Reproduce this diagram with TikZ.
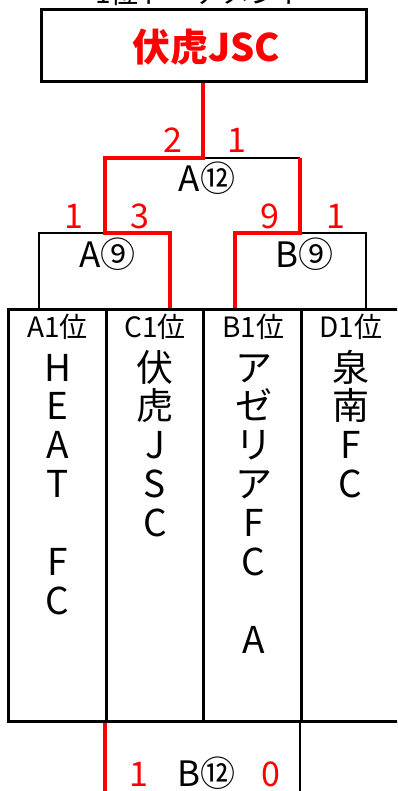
\documentclass[tikz,border=0pt]{standalone}
\usepackage{fontspec}
\setmainfont{Noto Sans CJK JP}
\begin{document}
\begin{tikzpicture}[x=1pt,y=-1pt,
  redline/.style={red,line width=4pt},
  thinline/.style={black,line width=1.5pt},
  frame/.style={draw=black,line width=3pt},
  cell/.style={frame,inner sep=0pt,minimum width=97.6pt,minimum height=411.5pt},
  score/.style={red,font=\fontsize{34}{34}\selectfont,anchor=base,inner sep=0pt},
  lbl/.style={font=\fontsize{35}{35}\selectfont,anchor=base,inner sep=0pt},
  hdr/.style={font=\fontsize{28}{28}\selectfont,anchor=base,inner sep=0pt},
  nm/.style={font=\fontsize{37}{37}\selectfont,anchor=base,inner sep=0pt}]
\useasboundingbox (0,0) rectangle (397,791);
\clip (0,0) rectangle (397,791);
\fill[white] (0,0) rectangle (397,791);

% title (cut off at the top, as in the reference)
\node[font=\fontsize{28}{28}\selectfont,anchor=base,inner sep=0pt] (title) at (201,4) {1位トーナメント};

% champion box
\node[frame,inner sep=0pt,minimum width=325pt,minimum height=72pt] (champ) at (204,45.5) {};
\node[red,font=\bfseries\fontsize{38}{38}\selectfont,anchor=base,inner sep=0pt] (champname) at (206,62) {伏虎JSC};

% table cells
\node[cell] (cA) at (57.4,515.25) {};
\node[cell] (cC) at (155.0,515.25) {};
\node[cell] (cB) at (252.6,515.25) {};
\node[cell] (cD) at (350.2,515.25) {};

% bracket coordinates
\coordinate (f) at (203,158);
\coordinate (l12) at (105,158);
\coordinate (r12) at (300,158);
\coordinate (a9l) at (39,233);
\coordinate (a9m) at (105,233);
\coordinate (a9r) at (170,233);
\coordinate (b9l) at (235,233);
\coordinate (b9m) at (300,233);
\coordinate (b9r) at (366,233);

% black (losing) lines
\draw[thinline] (f) -- (r12);
\draw[thinline] (a9m) -- (a9l) -- (a9l |- cA.north);
\draw[thinline] (b9m) -- (b9r) -- (b9r |- cD.north);

% red (winning) lines
\draw[redline] (champ.south -| f) -- (f) -- (l12) -- (a9m) -- (a9r) -- (a9r |- cC.north);
\draw[redline] (r12) -- (b9m) -- (b9l) -- (b9l |- cB.north);

% scores and match labels
\node[score] (s2) at (172.5,153) {2};
\node[score] (s1) at (237,153) {1};
\node[lbl] (a12) at (207,192) {A⑫};
\node[score] (s1a) at (74,229) {1};
\node[score] (s3) at (140,229) {3};
\node[score] (s9) at (270,229) {9};
\node[score] (s1b) at (336,229) {1};
\node[lbl] (a9) at (107.5,268) {A⑨};
\node[lbl] (b9) at (304.5,268) {B⑨};

% headers
\node[hdr] (hA) at (57.5,337) {A1位};
\node[hdr] (hC) at (155,337) {C1位};
\node[hdr] (hB) at (253.5,337) {B1位};
\node[hdr] (hD) at (351,337) {D1位};

% vertical team names
\foreach \i/\ch in {1/H,2/E,3/A,4/T,6/F,7/C}
  \node[nm] (nA\i) at (57.5,{381+38.9*(\i-1)}) {\ch};
\foreach \i/\ch in {1/伏,2/虎,3/J,4/S,5/C}
  \node[nm] (nC\i) at (155,{381+38.9*(\i-1)}) {\ch};
\foreach \i/\ch in {1/ア,2/ゼ,3/リ,4/ア,5/F,6/C,8/A}
  \node[nm] (nB\i) at (253.5,{381+38.9*(\i-1)}) {\ch};
\foreach \i/\ch in {1/泉,2/南,3/F,4/C}
  \node[nm] (nD\i) at (350.5,{381+38.9*(\i-1)}) {\ch};

% bottom bracket (cut off)
\coordinate (bl) at (104.7,800);
\coordinate (br) at (300,800);
\draw[redline] (cA.south -| bl) -- (bl);
\draw[thinline] (cB.south -| br) -- (br);
\node[score] (s1c) at (139,786) {1};
\node[lbl] (b12) at (206,786) {B⑫};
\node[score] (s0) at (271,786) {0};
\end{tikzpicture}
\end{document}
